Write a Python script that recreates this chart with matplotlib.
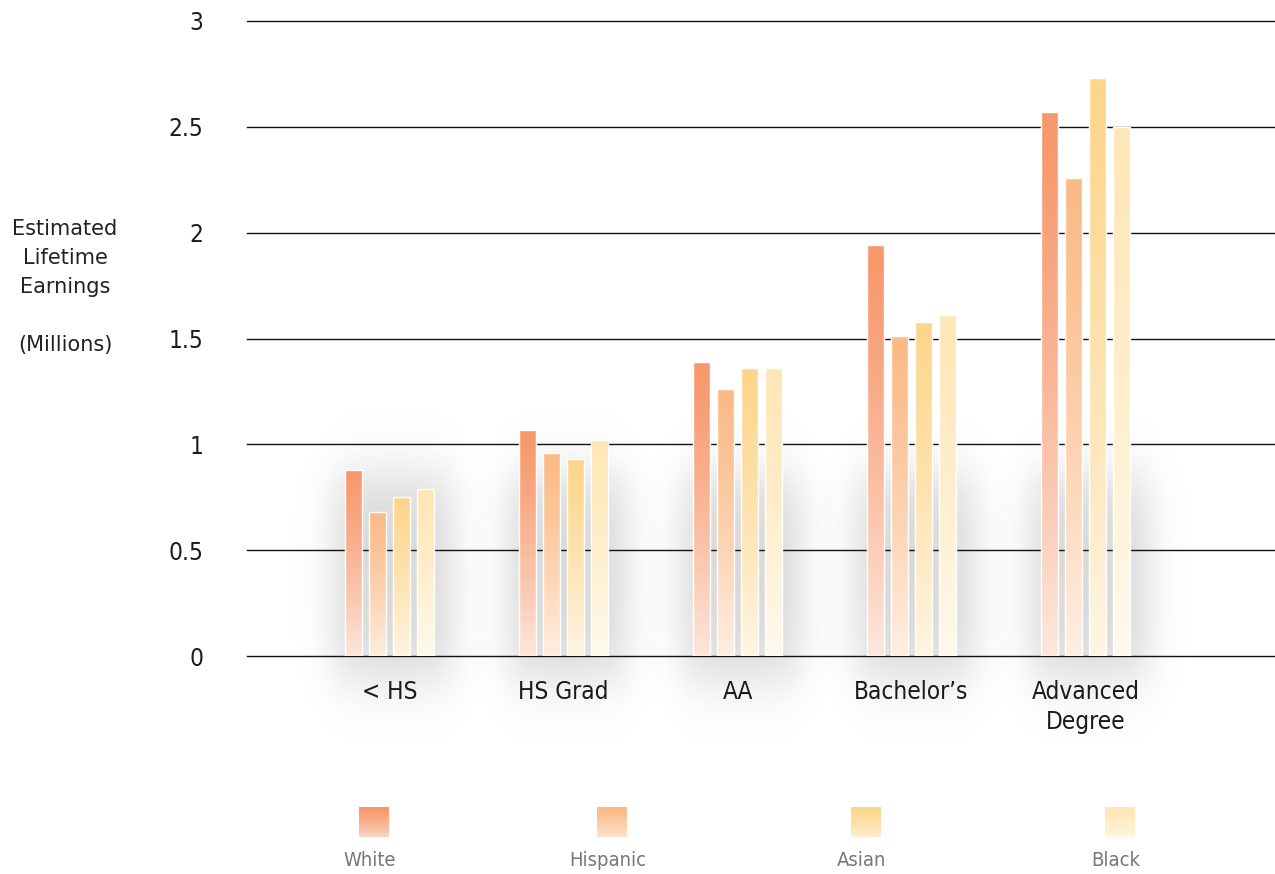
import numpy as np
import matplotlib.pyplot as plt
from matplotlib.colors import to_rgb

categories = ["< HS", "HS Grad", "AA", "Bachelor\u2019s", "Advanced\nDegree"]
groups = ["White", "Hispanic", "Asian", "Black"]
white = [0.88, 1.07, 1.39, 1.94, 2.57]
hispanic = [0.68, 0.96, 1.26, 1.51, 2.26]
asian = [0.75, 0.93, 1.36, 1.58, 2.73]
black = [0.79, 1.02, 1.36, 1.61, 2.50]
yticks = [0, 0.5, 1, 1.5, 2, 2.5, 3]
ytick_labels = ["0", "0.5", "1", "1.5", "2", "2.5", "3"]

series = [white, hispanic, asian, black]
colors = ["#F7976B", "#FBBA86", "#FDD68C", "#FEE7B6"]
FONT = dict(family="DejaVu Sans", stretch="condensed")


def gradient(color, n=400, fade=0.78):
    # vertical gradient: full colour on top, washed-out toward the bottom
    c = np.array(to_rgb(color))
    t = np.linspace(0, 1, n)[:, None]  # 0 = top, 1 = bottom
    mix = (t ** 1.3) * fade
    img = c * (1 - mix) + np.ones(3) * mix
    return img[:, None, :]


def softbox(v, half, soft):
    return 1 / (1 + np.exp((np.abs(v) - half) / soft))


fig = plt.figure(figsize=(12.75, 8.74), dpi=100, facecolor="white")
ax = fig.add_axes([247 / 1275, 1 - 656 / 874, 1 - 247 / 1275, (656 - 21) / 874])
ax.patch.set_alpha(0)

x = np.arange(len(categories))
width = 0.1
step = 0.138
offsets = (np.arange(len(groups)) - 1.5) * step

# soft grey shadow behind every group
for i in x:
    xs = np.linspace(-0.7, 0.7, 140)
    ys = np.linspace(-0.6, 1.4, 160)
    hx = softbox(xs - 0.02, 0.34, 0.06)
    hy = softbox(ys - 0.37, 0.48, 0.08)
    alpha = np.outer(hy[::-1], hx) * 0.21
    img = np.zeros((len(ys), len(xs), 4))
    img[..., :3] = 0.3
    img[..., 3] = alpha
    ax.imshow(img, extent=[i - 0.7, i + 0.7, -0.6, 1.4], aspect="auto",
              zorder=0, clip_on=False, interpolation="bilinear")

for j, (vals, col) in enumerate(zip(series, colors)):
    bars = ax.bar(x + offsets[j], vals, width, facecolor="none",
                  edgecolor="white", linewidth=1.0, zorder=3)
    for p in bars.patches:
        x0, w, h = p.get_x(), p.get_width(), p.get_height()
        im = ax.imshow(gradient(col), extent=[x0 - 0.01, x0 + w + 0.01, -0.02, h + 0.02],
                       aspect="auto", zorder=2, interpolation="nearest")
        im.set_clip_path(p)

for yv in yticks:
    ax.axhline(yv, color="#111111", linewidth=1.0, zorder=1, clip_on=False)

ax.set_xlim(-0.82, 5.09)
ax.set_ylim(0, 3)
for s in ax.spines.values():
    s.set_visible(False)
ax.set_yticks(yticks)
ax.set_yticklabels(ytick_labels, fontsize=17.5, color="#1a1a1a", **FONT)
ax.set_xticks(x)
ax.set_xticklabels(categories, fontsize=17.5, color="#1a1a1a",
                   linespacing=1.35, va="top", **FONT)
ax.tick_params(axis="y", length=0, pad=31.5)
ax.tick_params(axis="x", length=0, pad=17)

fig.text(65 / 1275, 1 - 287 / 874, "Estimated\nLifetime\nEarnings\n\n(Millions)",
         ha="center", va="center", fontsize=15, family="DejaVu Sans",
         color="#222222", linespacing=1.55)

# legend: gradient swatches with grey labels underneath
lax = fig.add_axes([0, 0, 1, 1], zorder=5)
lax.axis("off")
lax.patch.set_alpha(0)
legend_x = [374, 612, 866, 1120]
for name, col, cx in zip(groups, colors, legend_x):
    lax.imshow(gradient(col, fade=0.6), extent=[cx - 15, cx + 15, 837, 807],
               aspect="auto", interpolation="nearest")
    lax.text(cx - 4, 860, name, ha="center", va="center", fontsize=14.5,
             color="#777777", **FONT)
lax.set_xlim(0, 1275)
lax.set_ylim(874, 0)

fig.savefig("out.png", dpi=100, facecolor="white")
